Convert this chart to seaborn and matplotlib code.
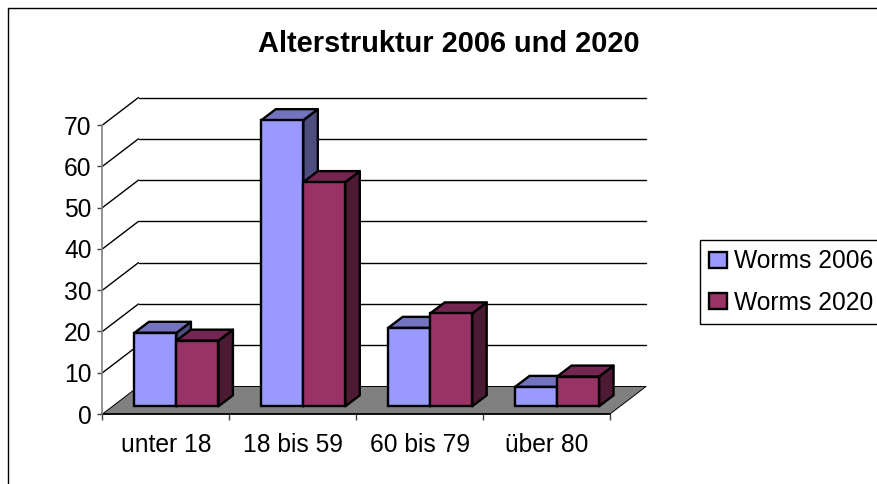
import pandas as pd
import seaborn as sns
import matplotlib.pyplot as plt
from matplotlib.lines import Line2D
from matplotlib.patches import Polygon, Rectangle
from matplotlib.transforms import Affine2D, IdentityTransform

age_groups = ['unter 18', '18 bis 59', '60 bis 79', 'über 80']
worms_2006 = [17.8, 69.3, 19.0, 4.7]
worms_2020 = [15.9, 54.3, 22.5, 7.2]
y_ticks = [0, 10, 20, 30, 40, 50, 60, 70]

colors = {'Worms 2006': '#9999FF', 'Worms 2020': '#993366'}
side_colors = {'Worms 2006': '#4D4D80', 'Worms 2020': '#4D1A33'}
top_colors = {'Worms 2006': '#7373BF', 'Worms 2020': '#732650'}

# fake 3D depth, in pixels
WALL_DX, WALL_DY = 36, 27.5
BAR_DX, BAR_DY = 10.5, 7.7
DEPTH_DX, DEPTH_DY = 14.5, 11
W, H = 878, 484

sns.set_theme(style='white')
plt.rcParams['font.family'] = ['Liberation Sans', 'DejaVu Sans']

df = pd.DataFrame({
    'group': age_groups * 2,
    'value': worms_2006 + worms_2020,
    'series': ['Worms 2006'] * 4 + ['Worms 2020'] * 4,
})

fig = plt.figure(figsize=(W / 100, H / 100), dpi=100)
ax = fig.add_axes([102.5 / W, (H - 414) / H, 507.5 / W, 289 / H])
ax.patch.set_alpha(0)

sns.barplot(data=df, x='group', y='value', hue='series', palette=colors, saturation=1,
            width=0.662, edgecolor='black', linewidth=1.7, ax=ax)
ax.set_xlim(-0.5, 3.5)
ax.set_ylim(0, 70)
ax.set_xlabel('')
ax.set_ylabel('')

pix = ax.transData.transform
ident = IdentityTransform()


def poly(points, color, z, lw=1.7):
    ax.add_artist(Polygon(points, closed=True, facecolor=color, edgecolor='black', linewidth=lw,
                          joinstyle='round', transform=ident, clip_on=False, zorder=z))


def line(p0, p1, z=1, color='black', lw=1.0):
    ax.add_artist(Line2D([p0[0], p1[0]], [p0[1], p1[1]], color=color, lw=lw, transform=ident,
                         clip_on=False, zorder=z))


# floor
x0, y0 = pix((-0.5, 0))
x1, _ = pix((3.5, 0))
poly([(x0, y0), (x0 + WALL_DX, y0 + WALL_DY), (x1 + WALL_DX, y0 + WALL_DY), (x1, y0)], '#808080', 1, lw=0.7)

# wall lines
for v in y_ticks:
    xa, ya = pix((-0.5, v))
    xb, _ = pix((3.5, v))
    if v > 0:
        line((xa, ya), (xa + WALL_DX, ya + WALL_DY))
        line((xa + WALL_DX, ya + WALL_DY), (xb + WALL_DX, ya + WALL_DY))

# bars, shifted back onto the floor, with side and top faces
for i, (name, container) in enumerate(zip(colors, ax.containers)):
    z = 3 + i
    for bar in container:
        bar.set_transform(ax.transData + Affine2D().translate(BAR_DX, BAR_DY))
        bar.set_clip_on(False)
        bar.set_zorder(z + 0.5)
        lx, by = pix((bar.get_x(), 0))
        rx, ty = pix((bar.get_x() + bar.get_width(), bar.get_height()))
        lx, rx = lx + BAR_DX, rx + BAR_DX
        by, ty = by + BAR_DY, ty + BAR_DY
        poly([(rx, by), (rx + DEPTH_DX, by + DEPTH_DY), (rx + DEPTH_DX, ty + DEPTH_DY), (rx, ty)],
             side_colors[name], z)
        poly([(lx, ty), (lx + DEPTH_DX, ty + DEPTH_DY), (rx + DEPTH_DX, ty + DEPTH_DY), (rx, ty)],
             top_colors[name], z)

sns.despine(ax=ax)
ax.spines['left'].set_color('#808080')
ax.spines['left'].set_linewidth(1.2)
ax.spines['bottom'].set_color('black')
ax.spines['bottom'].set_linewidth(1.2)
ax.spines['bottom'].set_zorder(2)

ax.set_yticks(y_ticks)
ax.set_xticks(range(4))
ax.set_xticklabels(age_groups)
ax.set_xticks([-0.5, 0.5, 1.5, 2.5, 3.5], minor=True)
ax.tick_params(axis='y', which='major', left=True, length=3.5, width=1, color='#404040', pad=4.5,
               labelsize=17.7, labelcolor='black')
ax.tick_params(axis='x', which='major', bottom=False, pad=7.5, labelsize=17.7, labelcolor='black')
ax.tick_params(axis='x', which='minor', bottom=True, length=4.5, width=1, color='#404040')

sns.move_legend(ax, 'upper left', bbox_to_anchor=(700 / W, 1 - 240 / H), bbox_transform=fig.transFigure,
                title=None, frameon=True, fancybox=False, edgecolor='black', framealpha=1,
                fontsize=17.7, labelcolor='black', borderaxespad=0, borderpad=0.38, handlelength=0.72,
                handleheight=0.64, handletextpad=0.3, labelspacing=0.7)
ax.get_legend().get_frame().set_linewidth(1)

fig.text(448.5 / W, 1 - 44.5 / H, 'Alterstruktur 2006 und 2020', ha='center', va='center',
         fontsize=20.9, fontweight='bold', color='black')

# chart border, runs off the right and bottom of the image
fig.add_artist(Rectangle((8, -10), W + 10, H - 8 + 10, fill=False, edgecolor='black', linewidth=1,
                         transform=ident))

fig.savefig('out.png', dpi=100)
